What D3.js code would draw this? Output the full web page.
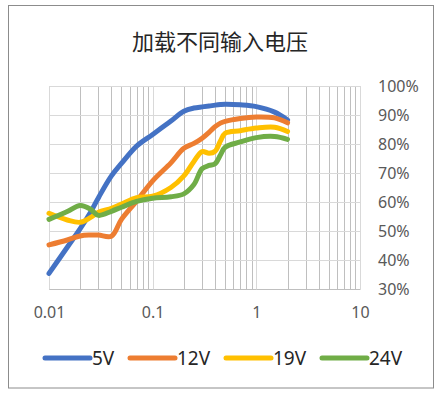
<!DOCTYPE html>
<html>
<head>
<meta charset="utf-8">
<script src="https://cdn.jsdelivr.net/npm/d3@7"></script>
<style>
  html, body { margin: 0; padding: 0; background: #fff; }
  svg { display: block; }
</style>
</head>
<body>
<svg id="chart" width="438" height="395"></svg>
<script>
// ---- Data ----
const title = "加载不同输入电压";
const loads = [0.01, 0.015, 0.02, 0.025, 0.03, 0.04, 0.05, 0.07, 0.1, 0.15, 0.2, 0.25, 0.3, 0.35, 0.4, 0.45, 0.5, 0.7, 1, 1.5, 2];
const seriesNames = ["5V", "12V", "19V", "24V"];
const eff5V  = [35.4, 44.4, 50.8, 56.3, 61.5, 69.0, 73.3, 79.3, 83.3, 87.9, 91.3, 92.4, 92.8, 93.1, 93.4, 93.6, 93.7, 93.5, 92.9, 91.0, 88.3];
const eff12V = [45.2, 46.9, 48.3, 48.6, 48.6, 48.2, 54.0, 60.3, 67.3, 73.5, 78.5, 80.2, 82.0, 84.0, 86.0, 87.2, 87.8, 88.8, 89.3, 89.0, 87.3];
const eff19V = [56.1, 53.8, 53.0, 54.6, 56.5, 57.8, 59.3, 61.5, 62.0, 65.0, 69.0, 74.0, 77.4, 76.8, 77.5, 81.0, 83.7, 84.6, 85.5, 85.8, 84.3];
const eff24V = [54.0, 56.7, 58.8, 57.6, 55.4, 56.8, 58.2, 60.2, 61.3, 61.8, 62.8, 66.0, 71.5, 72.6, 73.2, 76.2, 78.9, 80.7, 82.2, 82.6, 81.6];
const xTickLabels = ["0.01", "0.1", "1", "10"];
const yTickLabels = ["30%", "40%", "50%", "60%", "70%", "80%", "90%", "100%"];
const colors = ["#4472C4", "#ED7D31", "#FFC000", "#70AD47"];

// ---- Layout ----
const svg = d3.select("#chart");
const plot = { left: 49, right: 360, top: 86, bottom: 289 };
const x = d3.scaleLog().domain([0.01, 10]).range([plot.left, plot.right]);
const y = d3.scaleLinear().domain([30, 100]).range([plot.bottom, plot.top]);

// outer border
svg.append("rect").attr("x", 8.5).attr("y", 5.5).attr("width", 425).attr("height", 382.5)
  .attr("fill", "#fff").attr("stroke", "#8c8c8c").attr("stroke-width", 1);

// title
svg.append("text").attr("x", 220).attr("y", 50).attr("text-anchor", "middle")
  .attr("font-family", "'Noto Sans CJK SC', sans-serif").attr("font-size", 22)
  .attr("fill", "#262626").text(title);

// gridlines
const g = svg.append("g");
const minor = [];
[0.01, 0.1, 1].forEach(d => { for (let k = 2; k <= 9; k++) minor.push(d * k); });
g.selectAll("line.minor").data(minor).enter().append("line")
  .attr("x1", d => Math.round(x(d)) + 0.5).attr("x2", d => Math.round(x(d)) + 0.5)
  .attr("y1", plot.top).attr("y2", plot.bottom + 0.5)
  .attr("stroke", "#bfbfbf").attr("stroke-width", 1);
const yTickVals = yTickLabels.map(s => parseFloat(s));
g.selectAll("line.h").data(yTickVals).enter().append("line")
  .attr("x1", plot.left).attr("x2", plot.right + 0.5)
  .attr("y1", d => Math.round(y(d)) + 0.5).attr("y2", d => Math.round(y(d)) + 0.5)
  .attr("stroke", d => d === 30 ? "#bfbfbf" : "#d9d9d9").attr("stroke-width", 1);
const xTickVals = xTickLabels.map(s => parseFloat(s));
g.selectAll("line.major").data(xTickVals).enter().append("line")
  .attr("x1", d => Math.round(x(d)) + 0.5).attr("x2", d => Math.round(x(d)) + 0.5)
  .attr("y1", plot.top).attr("y2", plot.bottom + 0.5)
  .attr("stroke", "#d9d9d9").attr("stroke-width", 1);

// axis labels
const xAxis = d3.axisBottom(x).tickValues(xTickVals).tickFormat((d, i) => xTickLabels[i]).tickSize(0).tickPadding(18);
const xa = svg.append("g").attr("transform", `translate(0,${plot.bottom})`).call(xAxis);
xa.select(".domain").remove();
xa.selectAll("text").attr("font-family", "'Noto Sans', sans-serif").attr("font-size", 16).attr("fill", "#595959");

const yAxis = d3.axisRight(y).tickValues(yTickVals).tickFormat((d, i) => yTickLabels[i]).tickSize(0).tickPadding(18);
const ya = svg.append("g").attr("transform", `translate(${plot.right},0)`).call(yAxis);
ya.select(".domain").remove();
ya.selectAll("text").attr("font-family", "'Noto Sans', sans-serif").attr("font-size", 16).attr("fill", "#595959");

// series
const allSeries = [eff5V, eff12V, eff19V, eff24V];
const line = d3.line().x((d, i) => x(loads[i])).y(d => y(d)).curve(d3.curveCatmullRom.alpha(0.5));
allSeries.forEach((vals, si) => {
  svg.append("path").datum(vals).attr("d", line)
    .attr("fill", "none").attr("stroke", colors[si]).attr("stroke-width", 5)
    .attr("stroke-linecap", "round").attr("stroke-linejoin", "round");
});

// legend
const legendX = [45, 130, 226, 322];
const lg = svg.append("g");
seriesNames.forEach((name, i) => {
  lg.append("line").attr("x1", legendX[i]).attr("x2", legendX[i] + 45)
    .attr("y1", 358).attr("y2", 358).attr("stroke", colors[i]).attr("stroke-width", 5)
    .attr("stroke-linecap", "round");
  lg.append("text").attr("x", legendX[i] + 47).attr("y", 358).attr("dy", "0.35em")
    .attr("font-family", "'Noto Sans', sans-serif").attr("font-size", 19).attr("fill", "#262626").text(name);
});
</script>
</body>
</html>
